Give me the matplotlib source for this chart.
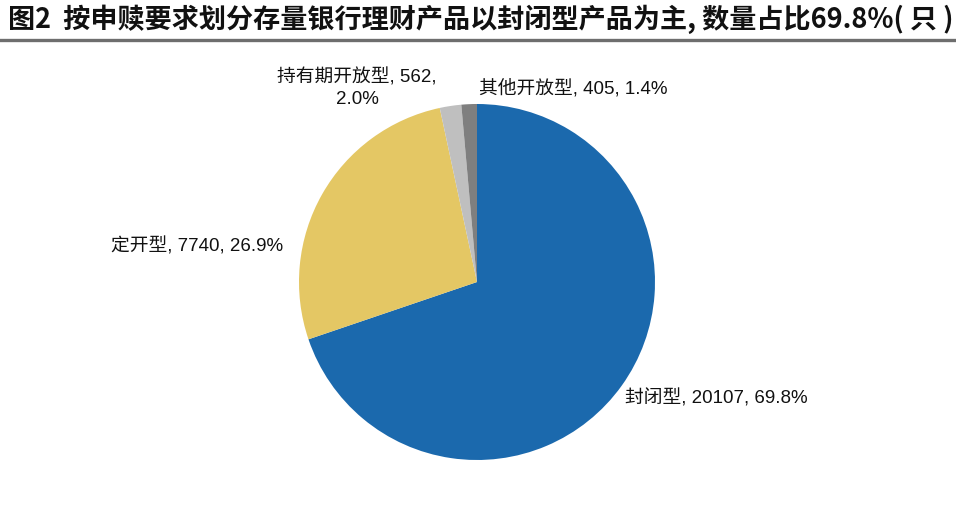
import matplotlib
matplotlib.use("Agg")
import matplotlib.pyplot as plt
from matplotlib.lines import Line2D

plt.rcParams['font.family'] = ['Liberation Sans', 'Noto Sans CJK SC', 'DejaVu Sans']

#===== data =====
categories = ["封闭型", "定开型", "持有期开放型", "其他开放型"]
counts = [20107, 7740, 562, 405]
shares = ["69.8%", "26.9%", "2.0%", "1.4%"]
colors = ["#1b69ad", "#e4c764", "#bfbfbf", "#7f7f7f"]

title = "图2  按申赎要求划分存量银行理财产品以封闭型产品为主, 数量占比69.8%( 只 )"

#===== figure =====
W, H = 956, 516
fig = plt.figure(figsize=(W/100, H/100), dpi=100)

# pie centre and radius in pixels
cx, cy, r = 477, H-282, 178
k = 2.0
ax = fig.add_axes([(cx-r*k)/W, (cy-r*k)/H, 2*r*k/W, 2*r*k/H])

ax.pie(counts, colors=colors, startangle=90, counterclock=False, radius=1.0,
       wedgeprops=dict(linewidth=0))
ax.set_xlim(-k, k)
ax.set_ylim(-k, k)
ax.set_aspect('equal')
ax.axis('off')

# data labels (positions in pie radius units)
lab = [c + ", " + str(n) + ", " + s for c, n, s in zip(categories, counts, shares)]
fs = 13.5
ax.text(0.83, -0.652, lab[0], ha='left', va='center', fontsize=fs, color='#111111')
ax.text(-1.09, 0.202, lab[1], ha='right', va='center', fontsize=fs, color='#111111')
ax.text(-0.674, 1.09, categories[2] + ", " + str(counts[2]) + ",\n" + shares[2],
        ha='center', va='center', fontsize=fs, multialignment='center', linespacing=1.3,
        color='#111111')
ax.text(0.542, 1.09, lab[3], ha='center', va='center', fontsize=fs, color='#111111')

# title and rule
fig.text(8/W, 1-19/H, title, ha='left', va='center', fontsize=19.5, fontweight='bold',
         family=['Noto Sans CJK SC', 'DejaVu Sans'], color='#111111')
fig.add_artist(Line2D([0, 1], [1-40/H, 1-40/H], transform=fig.transFigure,
                      color='#6e6e6e', linewidth=2.4))

plt.savefig("out.png", dpi=100)
